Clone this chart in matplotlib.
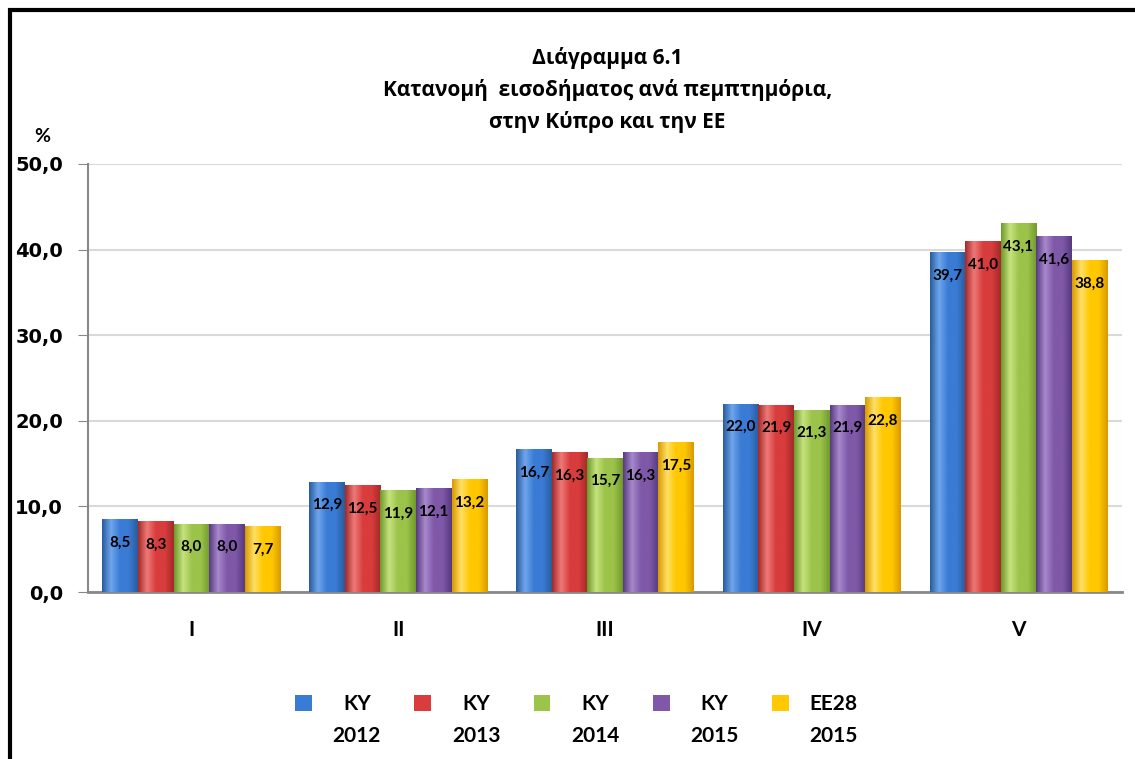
import numpy as np
import matplotlib
matplotlib.use("Agg")
import matplotlib.pyplot as plt
from matplotlib.colors import LinearSegmentedColormap
from matplotlib.patches import Rectangle
from matplotlib.legend_handler import HandlerPatch

plt.rcParams['font.family'] = ['Lato', 'Open Sans', 'DejaVu Sans']

categories = ["I", "II", "III", "IV", "V"]
series_names = ["KY\n2012", "KY\n2013", "KY\n2014", "KY\n2015", "EE28\n2015"]
ky2012 = [8.5, 12.9, 16.7, 22.0, 39.7]
ky2013 = [8.3, 12.5, 16.3, 21.9, 41.0]
ky2014 = [8.0, 11.9, 15.7, 21.3, 43.1]
ky2015 = [8.0, 12.1, 16.3, 21.9, 41.6]
ee2015 = [7.7, 13.2, 17.5, 22.8, 38.8]
series = [ky2012, ky2013, ky2014, ky2015, ee2015]
yticks = [0, 10, 20, 30, 40, 50]

# (edge, light, base) per series
colors = [("#2A5C9E", "#6FA6EC", "#3A7BD5"),
          ("#A52A2A", "#EE7A78", "#D83C3C"),
          ("#6F9A2C", "#C6E27E", "#9CC34A"),
          ("#573A80", "#A889CC", "#7F58A8"),
          ("#D99A00", "#FFE066", "#FFC800")]

fig = plt.figure(figsize=(11.35, 7.59), dpi=100)
ax = fig.add_axes([0.0775, 0.22, 0.911, 0.564])

x = np.arange(len(categories))
w = 0.172
grad = np.linspace(0, 1, 64).reshape(1, -1)
handles = []
for i, vals in enumerate(series):
    edge, light, base = colors[i]
    cmap = LinearSegmentedColormap.from_list("c%d" % i,
                                             [edge, light, base, base, edge])
    pos = x + (i - 2) * w
    bars = ax.bar(pos, vals, w, color=base, zorder=2)
    handles.append(bars.patches[0])
    for b, v in zip(bars, vals):
        bx = b.get_x()
        im = ax.imshow(grad, cmap=cmap, aspect="auto", zorder=3,
                       extent=[bx, bx + b.get_width(), 0, v])
        im.set_clip_path(b)
        ax.annotate(("%.1f" % v).replace(".", ","), (bx + w / 2, v),
                    xytext=(0, -17), textcoords="offset points",
                    ha="center", va="center", fontsize=11,
                    fontweight="bold", color="black", zorder=4)

ax.set_xlim(-0.5, 4.5)
ax.set_ylim(0, 50)
ax.set_yticks(yticks)
ax.set_yticklabels([("%.1f" % t).replace(".", ",") for t in yticks],
                   family="DejaVu Sans", fontweight="bold", fontsize=14)
ax.set_xticks(x)
ax.set_xticklabels(categories, fontweight="bold", fontsize=15)
ax.tick_params(axis="x", length=0, pad=20)
ax.tick_params(axis="y", length=7, pad=11, color="#888888")
ax.yaxis.grid(True, color="#D9D9D9", linewidth=1.5, zorder=0)
ax.set_axisbelow(True)
for s in ["top", "right"]:
    ax.spines[s].set_visible(False)
ax.spines["left"].set_color("#888888")
ax.spines["left"].set_linewidth(1.5)
ax.spines["bottom"].set_color("#888888")
ax.spines["bottom"].set_linewidth(2)

fig.text(42 / 1135, 1 - 137 / 759, "%", ha="center", va="center",
         fontsize=14, fontweight="bold")
fig.text(0.535, 1 - 90 / 759,
         "Διάγραμμα 6.1\nΚατανομή  εισοδήματος ανά πεμπτημόρια,\nστην Κύπρο και την ΕΕ",
         ha="center", va="center", fontsize=15, fontweight="bold",
         family=["Open Sans", "DejaVu Sans"], linespacing=1.6)


def raised_patch(legend, orig_handle, xdescent, ydescent, width, height, fontsize):
    # put the swatch next to the first line of the two-line label
    return Rectangle((-xdescent, -ydescent + 0.85 * fontsize), width, height)


leg = fig.legend(handles, series_names, loc="center", ncol=5,
                 bbox_to_anchor=(0.508, 1 - 720 / 759), frameon=False,
                 handlelength=0.8, handleheight=0.8, columnspacing=1.6,
                 handletextpad=1.0, prop={"weight": "bold", "size": 15},
                 handler_map={h: HandlerPatch(patch_func=raised_patch)
                              for h in handles})
for t in leg.get_texts():
    t.set_multialignment("center")
    t.set_linespacing(1.75)

fig.patches.append(Rectangle((10 / 1135, -0.1), 1.2, 1 - 9.5 / 759 + 0.1,
                             transform=fig.transFigure, fill=False,
                             edgecolor="black", linewidth=3, zorder=10))

fig.savefig("out.png", dpi=100)
